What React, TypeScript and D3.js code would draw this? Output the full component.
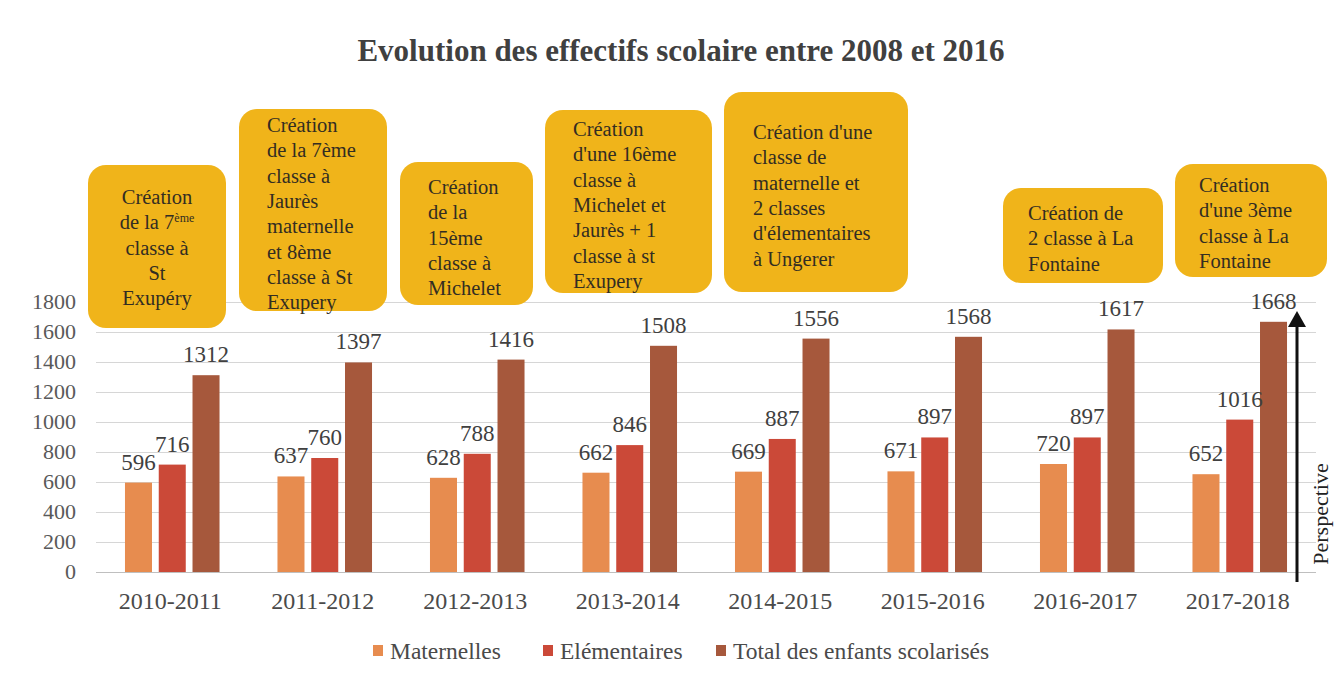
import React, { useEffect, useRef } from "react";
import * as d3 from "d3";

const categories = [
  "2010-2011",
  "2011-2012",
  "2012-2013",
  "2013-2014",
  "2014-2015",
  "2015-2016",
  "2016-2017",
  "2017-2018",
];
const maternelles = [596, 637, 628, 662, 669, 671, 720, 652];
const elementaires = [716, 760, 788, 846, 887, 897, 897, 1016];
const totals = [1312, 1397, 1416, 1508, 1556, 1568, 1617, 1668];
const seriesNames = ["Maternelles", "Elémentaires", "Total des enfants scolarisés"];
const yTicks = [0, 200, 400, 600, 800, 1000, 1200, 1400, 1600, 1800];

const calloutTexts = [
  ["Création", "de la 7^ème", "classe à", "St", "Exupéry"],
  ["Création", "de la 7ème", "classe à", "Jaurès", "maternelle", "et 8ème", "classe à St", "Exupery"],
  ["Création", "de la", "15ème", "classe à", "Michelet"],
  ["Création", "d'une 16ème", "classe à", "Michelet et", "Jaurès + 1", "classe à st", "Exupery"],
  ["Création d'une", "classe de", "maternelle et", "2 classes", "d'élementaires", "à Ungerer"],
  ["Création de", "2 classe à La", "Fontaine"],
  ["Création", "d'une 3ème", "classe à La", "Fontaine"],
];

// layout of the yellow callout boxes (pixels)
const calloutBoxes = [
  { x: 88, y: 165, w: 138, h: 163, tx: 157, ty: 204, anchor: "middle" },
  { x: 239, y: 109, w: 148, h: 202, tx: 267, ty: 132, anchor: "start" },
  { x: 400, y: 162, w: 133, h: 143, tx: 428, ty: 194, anchor: "start" },
  { x: 545, y: 110, w: 167, h: 183, tx: 573, ty: 136, anchor: "start" },
  { x: 724, y: 92, w: 184, h: 200, tx: 753, ty: 139, anchor: "start" },
  { x: 1003, y: 188, w: 160, h: 95, tx: 1028, ty: 220, anchor: "start" },
  { x: 1175, y: 164, w: 152, h: 113, tx: 1199, ty: 192, anchor: "start" },
];

const colors = ["#E78C4F", "#CB4938", "#A6583C"];
const serif = "'Liberation Serif', 'Times New Roman', serif";

const App = () => {
  const svgRef = useRef(null);

  useEffect(() => {
    const width = 1336;
    const height = 681;
    const svg = d3.select(svgRef.current).attr("width", width).attr("height", height);
    svg.selectAll("*").remove();

    svg.append("rect").attr("width", width).attr("height", height).attr("fill", "#ffffff");

    const x0 = d3
      .scaleBand()
      .domain(categories)
      .range([96, 1316])
      .paddingInner(0.38)
      .paddingOuter(0.19);
    const x1 = d3.scaleBand().domain(seriesNames).range([0, x0.bandwidth()]).paddingInner(0.2);
    const y = d3.scaleLinear().domain([0, 1800]).range([572, 302]);

    // title
    svg
      .append("text")
      .attr("x", 681)
      .attr("y", 61)
      .attr("text-anchor", "middle")
      .style("font-family", serif)
      .style("font-size", "31px")
      .style("font-weight", "bold")
      .style("fill", "#404040")
      .text("Evolution des effectifs scolaire entre 2008 et 2016");

    // grid
    svg
      .append("g")
      .selectAll("line")
      .data(yTicks)
      .join("line")
      .attr("x1", 96)
      .attr("x2", 1316)
      .attr("y1", (d) => Math.round(y(d)) + 0.5)
      .attr("y2", (d) => Math.round(y(d)) + 0.5)
      .style("stroke", (d) => (d === 0 ? "#bfbfbf" : "#d6d6d6"))
      .style("stroke-width", 1);

    // y tick labels
    svg
      .append("g")
      .selectAll("text")
      .data(yTicks)
      .join("text")
      .attr("x", 76)
      .attr("y", (d) => y(d) + 7)
      .attr("text-anchor", "end")
      .style("font-family", serif)
      .style("font-size", "22px")
      .style("fill", "#595959")
      .text((d) => d);

    // x labels
    svg
      .append("g")
      .selectAll("text")
      .data(categories)
      .join("text")
      .attr("x", (d) => x0(d) + x0.bandwidth() / 2 - 2)
      .attr("y", 609)
      .attr("text-anchor", "middle")
      .style("font-family", serif)
      .style("font-size", "24px")
      .style("fill", "#4a4a4a")
      .text((d) => d);

    // bars
    const allSeries = [maternelles, elementaires, totals];
    const rows = [];
    allSeries.forEach((vals, si) => {
      vals.forEach((v, ci) => {
        rows.push({ cat: categories[ci], name: seriesNames[si], value: v, si });
      });
    });

    svg
      .append("g")
      .selectAll("rect")
      .data(rows)
      .join("rect")
      .attr("x", (d) => x0(d.cat) + x1(d.name))
      .attr("y", (d) => y(d.value))
      .attr("width", x1.bandwidth())
      .attr("height", (d) => y(0) - y(d.value))
      .style("fill", (d) => colors[d.si]);

    svg
      .append("g")
      .selectAll("text")
      .data(rows)
      .join("text")
      .attr("x", (d) => x0(d.cat) + x1(d.name) + x1.bandwidth() / 2)
      .attr("y", (d) => y(d.value) - 13)
      .attr("text-anchor", "middle")
      .style("font-family", serif)
      .style("font-size", "23px")
      .style("fill", "#404040")
      .text((d) => d.value);

    // callouts
    const cg = svg.append("g");
    calloutBoxes.forEach((b, i) => {
      cg.append("rect")
        .attr("x", b.x)
        .attr("y", b.y)
        .attr("width", b.w)
        .attr("height", b.h)
        .attr("rx", 18)
        .style("fill", "#F0B41A");
      const t = cg
        .append("text")
        .attr("text-anchor", b.anchor)
        .style("font-family", serif)
        .style("font-size", "20.5px")
        .style("fill", "#332d22");
      calloutTexts[i].forEach((line, li) => {
        const ly = b.ty + li * 25.3;
        if (line.includes("^")) {
          const [base, sup] = line.split("^");
          const tl = t.append("tspan").attr("x", b.tx).attr("y", ly);
          tl.append("tspan").text(base);
          tl.append("tspan").attr("dy", -7).style("font-size", "12px").text(sup);
        } else {
          t.append("tspan").attr("x", b.tx).attr("y", ly).text(line);
        }
      });
    });

    // perspective arrow
    svg
      .append("line")
      .attr("x1", 1297)
      .attr("x2", 1297)
      .attr("y1", 582)
      .attr("y2", 322)
      .style("stroke", "#111")
      .style("stroke-width", 3);
    svg
      .append("path")
      .attr("d", "M1297,311 L1306,327 L1288,327 Z")
      .style("fill", "#111");
    svg
      .append("text")
      .attr("transform", "translate(1328,514) rotate(-90)")
      .attr("text-anchor", "middle")
      .style("font-family", serif)
      .style("font-size", "22px")
      .style("fill", "#222")
      .text("Perspective");

    // legend
    const legendX = [373, 543, 716];
    const lg = svg.append("g");
    seriesNames.forEach((name, i) => {
      lg.append("rect")
        .attr("x", legendX[i])
        .attr("y", 645)
        .attr("width", 10)
        .attr("height", 11)
        .style("fill", colors[i]);
      lg.append("text")
        .attr("x", legendX[i] + 17)
        .attr("y", 659)
        .style("font-family", serif)
        .style("font-size", "23.5px")
        .style("fill", "#4a4a4a")
        .text(name);
    });
  }, []);

  return <svg ref={svgRef} style={{ position: "absolute", left: 0, top: 0, display: "block" }}></svg>;
};

export default App;
